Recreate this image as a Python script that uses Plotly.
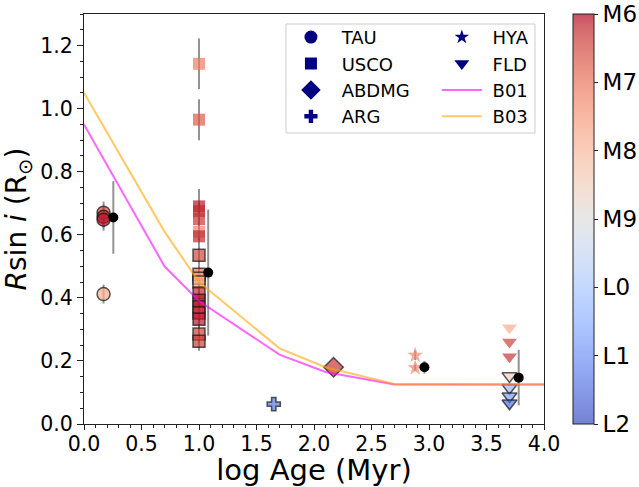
import plotly.graph_objects as go

# Spectral subtype index: 6=M6, 7=M7, 8=M8, 9=M9, 10=L0, 11=L1, 12=L2
spt_ticks = [6, 7, 8, 9, 10, 11, 12]
spt_labels = ["M6", "M7", "M8", "M9", "L0", "L1", "L2"]

# Taurus
tau_age = [0.17, 0.17, 0.17, 0.17]
tau_rsini = [0.670, 0.657, 0.648, 0.412]
tau_err = [0.035, 0.035, 0.035, 0.03]
tau_spt = [6.5, 6.2, 6.1, 7.8]

# Upper Sco (no edge)
usco_a_age = [1.0, 1.0, 1.0, 1.0, 1.0, 1.0, 1.0]
usco_a_rsini = [1.142, 0.965, 0.690, 0.675, 0.650, 0.610, 0.595]
usco_a_err = [0.08, 0.065, 0.055, 0.03, 0.03, 0.03, 0.03]
usco_a_spt = [7.1, 6.7, 6.1, 6.2, 6.3, 7.2, 6.2]

# Upper Sco (edged)
usco_b_age = [1.0, 1.0, 1.0, 1.0, 1.0, 1.0, 1.0, 1.0, 1.0, 1.0, 1.0]
usco_b_rsini = [0.535, 0.475, 0.462, 0.450, 0.415, 0.392, 0.372, 0.352, 0.332, 0.285, 0.262]
usco_b_err = [0.03, 0.03, 0.03, 0.03, 0.03, 0.03, 0.03, 0.03, 0.03, 0.03, 0.03]
usco_b_spt = [6.5, 7.0, 7.5, 7.7, 6.2, 6.1, 6.1, 6.2, 6.1, 6.4, 6.4]

# AB Dor
abdmg_age = [2.17]
abdmg_rsini = [0.180]
abdmg_spt = [6.3]

# Argus
arg_age = [1.65]
arg_rsini = [0.063]
arg_spt = [11.4]

# Hyades
hya_age = [2.88, 2.88]
hya_rsini = [0.218, 0.178]
hya_err = [0.015, 0.01]
hya_spt = [7.3, 7.2]

# Field (no edge / edged)
fld_a_age = [3.70, 3.70, 3.70]
fld_a_rsini = [0.305, 0.260, 0.213]
fld_a_spt = [7.8, 6.4, 6.3]
fld_b_age = [3.70, 3.70, 3.70, 3.70]
fld_b_rsini = [0.152, 0.115, 0.088, 0.066]
fld_b_spt = [8.5, 10.3, 10.8, 11.5]

# Group means
mean_age = [0.255, 1.08, 2.96, 3.78]
mean_rsini = [0.655, 0.480, 0.180, 0.147]
mean_err = [0.115, 0.200, 0.02, 0.088]

# Models
b01_age = [0.0, 0.7, 1.0, 1.7, 2.1, 2.7, 4.0]
b01_r = [0.95, 0.50, 0.39, 0.22, 0.165, 0.125, 0.125]
b03_age = [0.0, 0.7, 1.0, 1.7, 2.1, 2.7, 4.0]
b03_r = [1.05, 0.61, 0.45, 0.24, 0.18, 0.127, 0.125]

# coolwarm table
cw = [(59,76,192),(68,90,204),(77,104,215),(87,117,225),(98,130,234),(108,142,241),
      (119,154,247),(130,165,251),(141,176,254),(152,185,255),(163,194,255),(174,201,253),
      (184,208,249),(194,213,244),(204,217,238),(213,219,230),(221,221,221),(229,216,209),
      (236,211,197),(241,204,185),(245,196,173),(247,187,160),(247,177,148),(247,166,135),
      (244,154,123),(241,141,111),(236,127,99),(229,112,88),(222,96,77),(213,80,66),
      (203,62,56),(192,40,47),(180,4,38)]
n = len(cw) - 1
cscale = [[i / n, "rgba(%d,%d,%d,0.7)" % c] for i, c in enumerate(cw)]

FONT = "DejaVu Sans"
NB = "\u00a0"
edge = dict(color="rgba(20,20,20,0.7)", width=1.5)
noedge = dict(width=0)
errstyle = dict(type="data", color="rgba(110,110,110,0.75)", thickness=2, width=0)

def neg(v):
    return [-s for s in v]

fig = go.Figure()

def add_pts(x, y, spt, symbol, size, line, err=None):
    fig.add_trace(go.Scatter(
        x=x, y=y, mode="markers", showlegend=False,
        error_y=(dict(array=err, **errstyle) if err else None),
        marker=dict(symbol=symbol, size=size, color=neg(spt), coloraxis="coloraxis", line=line)))

add_pts(tau_age, tau_rsini, tau_spt, "circle", 13, edge, tau_err)
add_pts(usco_a_age, usco_a_rsini, usco_a_spt, "square", 12, noedge, usco_a_err)
add_pts(usco_b_age, usco_b_rsini, usco_b_spt, "square", 12, edge, usco_b_err)
add_pts(abdmg_age, abdmg_rsini, abdmg_spt, "diamond", 15, edge)
add_pts(arg_age, arg_rsini, arg_spt, "cross", 11, edge)
add_pts(hya_age, hya_rsini, hya_spt, "star", 12, noedge, hya_err)
add_pts(fld_a_age, fld_a_rsini, fld_a_spt, "triangle-down", 13, noedge)
add_pts(fld_b_age, fld_b_rsini, fld_b_spt, "triangle-down", 13, edge)

fig.add_trace(go.Scatter(x=mean_age, y=mean_rsini, mode="markers", showlegend=False,
                         error_y=dict(array=mean_err, **errstyle),
                         marker=dict(color="black", size=10)))

# legend entries (navy markers)
leg1 = [("TAU", "circle", 13), ("USCO", "square", 12), ("ABDMG", "diamond", 15), ("ARG", "cross", 11)]
leg2 = [("HYA", "star", 11), ("FLD", "triangle-down", 13)]
for name, sym, sz in leg1:
    fig.add_trace(go.Scatter(x=[None], y=[None], mode="markers", name=NB + name, legend="legend",
                             marker=dict(symbol=sym, size=sz, color="navy")))
for name, sym, sz in leg2:
    fig.add_trace(go.Scatter(x=[None], y=[None], mode="markers", name=NB + name, legend="legend2",
                             marker=dict(symbol=sym, size=sz, color="navy")))

# model lines
fig.add_trace(go.Scatter(x=b01_age, y=b01_r, mode="lines", name=NB + "B01", legend="legend2",
                         line=dict(color="rgba(255,0,255,0.6)", width=2)))
fig.add_trace(go.Scatter(x=b03_age, y=b03_r, mode="lines", name=NB + "B03", legend="legend2",
                         line=dict(color="rgba(255,165,0,0.6)", width=2)))

axis_common = dict(showline=True, linecolor="#222", linewidth=1, mirror=True, ticks="outside",
                   tickwidth=1, tickcolor="#222", showgrid=False, zeroline=False,
                   automargin=False,
                   tickfont=dict(family=FONT, size=20.5, color="black"))

fig.update_layout(
    width=639, height=487,
    margin=dict(l=84, r=95, t=14, b=63, autoexpand=False),
    paper_bgcolor="white", plot_bgcolor="white",
    font=dict(family=FONT, color="black"),
    xaxis=dict(range=[0, 4], dtick=0.5, tickformat=".1f", ticklen=5, ticklabelstandoff=-4,
               minor=dict(dtick=0.1, ticklen=3, ticks="outside", tickcolor="#222"),
               title=dict(text="log Age (Myr)", font=dict(family=FONT, size=29), standoff=4),
               **axis_common),
    yaxis=dict(range=[0, 1.3], dtick=0.2, tickformat=".1f", ticklen=6,
               minor=dict(dtick=0.05, ticklen=3, ticks="outside", tickcolor="#222"),
               title=dict(text="<i>R</i>sin <i>i</i> (R<sub>⊙</sub>)", font=dict(family=FONT, size=28), standoff=12),
               **axis_common),
    coloraxis=dict(colorscale=cscale, cmin=-12, cmax=-6,
                   colorbar=dict(x=1.063, xanchor="left", xref="paper", y=0.5, len=1.0, lenmode="fraction",
                                 xpad=0, ypad=0, ticklabeloverflow="allow",
                                 thickness=21, outlinewidth=1, outlinecolor="#222",
                                 tickvals=neg(spt_ticks), ticktext=spt_labels, ticks="outside",
                                 ticklen=4, tickcolor="#222",
                                 tickfont=dict(family=FONT, size=23, color="black"))),
    legend=dict(x=0.439, y=0.988, xanchor="left", yanchor="top", bgcolor="rgba(0,0,0,0)",
                itemwidth=40, font=dict(family=FONT, size=18), tracegroupgap=0),
    legend2=dict(x=0.767, y=0.988, xanchor="left", yanchor="top", bgcolor="rgba(0,0,0,0)",
                 itemwidth=40, font=dict(family=FONT, size=18), tracegroupgap=0),
    shapes=[dict(type="rect", xref="paper", yref="paper", x0=0.4391, x1=0.9804, y0=0.7098, y1=0.9756,
                 line=dict(color="#cccccc", width=1), layer="below")],
)

# remove the browser's default 8px page margin so the figure fills the window exactly
fig.write_html("out.html", config={"displayModeBar": False},
               post_script="document.body.style.margin='0';")
